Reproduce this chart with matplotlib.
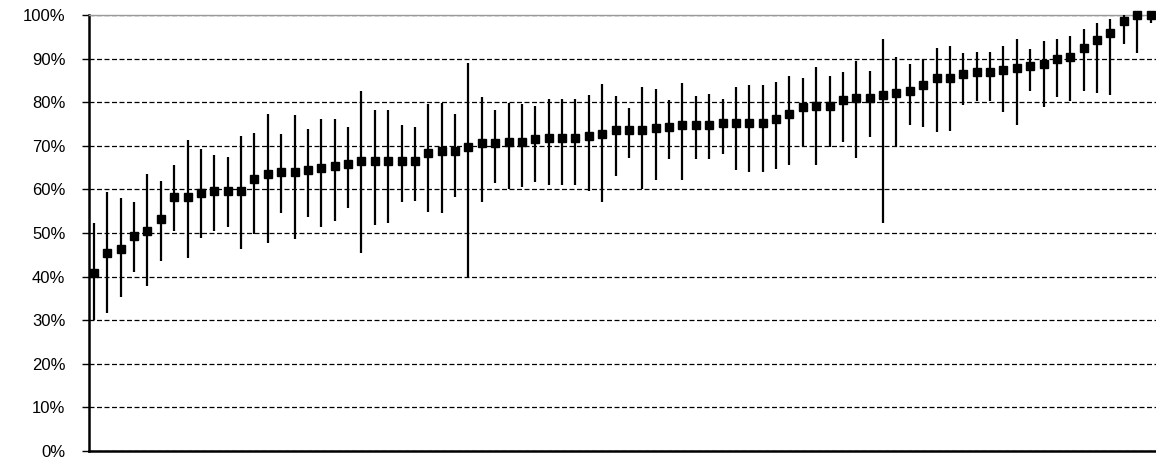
"""Sorted estimates with their intervals, drawn as squares with vertical whiskers."""
import matplotlib
matplotlib.use("Agg")
import matplotlib.pyplot as plt
import numpy as np
from matplotlib.ticker import FuncFormatter, MultipleLocator

# point estimate, interval top and interval bottom (percent), in sorted order
mean = [40.8, 45.3, 46.3, 49.3, 50.5, 53.1, 58.3, 58.3, 59.2, 59.6,
        59.6, 59.6, 62.3, 63.5, 63.9, 63.9, 64.4, 64.8, 65.4, 65.8,
        66.6, 66.6, 66.6, 66.6, 66.6, 68.4, 68.8, 68.8, 69.7, 70.6,
        70.6, 70.9, 70.9, 71.5, 71.9, 71.9, 71.9, 72.3, 72.7, 73.6,
        73.6, 73.6, 74.0, 74.4, 74.8, 74.8, 74.8, 75.3, 75.3, 75.3,
        75.3, 76.2, 77.4, 78.8, 79.1, 79.1, 80.5, 81.0, 81.0, 81.7,
        82.2, 82.6, 83.9, 85.6, 85.6, 86.5, 87.0, 87.0, 87.4, 87.8,
        88.3, 88.8, 89.9, 90.3, 92.5, 94.3, 95.9, 98.7, 100.0, 100.0]
upper = [52.2, 59.5, 58.0, 57.0, 63.5, 61.9, 65.6, 71.3, 69.3, 67.9,
         67.4, 72.2, 72.9, 77.4, 72.7, 77.0, 73.9, 76.1, 76.1, 74.2,
         82.6, 78.2, 78.2, 74.7, 74.2, 79.5, 79.9, 77.3, 89.1, 81.1,
         78.2, 79.9, 79.5, 79.1, 80.7, 80.7, 80.7, 81.7, 84.2, 81.4,
         78.6, 83.4, 83.0, 80.5, 84.3, 81.4, 81.9, 80.7, 83.4, 83.9,
         83.9, 84.6, 86.0, 85.5, 88.0, 86.0, 86.9, 89.4, 87.2, 94.6,
         90.3, 88.8, 89.8, 92.4, 92.9, 91.2, 91.4, 91.4, 92.9, 94.6,
         92.1, 94.1, 94.6, 95.2, 96.9, 98.1, 99.0, 100.0, 100.0, 100.0]
lower = [30.0, 31.6, 35.4, 41.1, 37.8, 43.6, 50.5, 44.2, 48.9, 50.5,
         51.4, 46.3, 49.7, 47.6, 54.5, 48.6, 53.6, 51.4, 52.8, 55.7,
         45.3, 51.8, 52.2, 57.0, 57.4, 54.9, 54.5, 58.3, 39.8, 57.0,
         61.4, 60.1, 60.6, 61.8, 60.9, 60.9, 60.9, 59.7, 57.0, 63.1,
         67.3, 60.1, 62.2, 67.0, 62.2, 67.0, 67.0, 68.1, 64.4, 64.1,
         64.1, 64.7, 65.6, 69.8, 65.6, 69.8, 70.9, 67.3, 72.1, 52.2,
         69.8, 74.8, 74.4, 73.1, 73.5, 79.3, 80.3, 80.3, 77.8, 74.8,
         82.6, 78.8, 81.3, 80.3, 82.6, 82.2, 81.7, 93.3, 91.2, 98.2]

plt.rcParams["font.family"] = ["Liberation Sans", "DejaVu Sans"]

fig = plt.figure(figsize=(11.56, 4.61), dpi=100)
ax = fig.add_axes([89 / 1156, 10 / 461, 1068 / 1156, 436 / 461])

x = np.arange(len(mean))
ax.vlines(x, lower, upper, color="black", lw=1.6, zorder=3, clip_on=False)
ax.plot(x, mean, "s", color="black", ms=6, zorder=4, clip_on=False)

ax.set_xlim(-0.37, len(mean) - 0.52)
ax.set_ylim(0, 100)
ax.yaxis.set_major_locator(MultipleLocator(10))
ax.yaxis.set_major_formatter(FuncFormatter(lambda v, _: f"{v:.0f}%"))
ax.grid(axis="y", color="black", lw=0.9, linestyle=(0, (4, 2)), zorder=1)
ax.set_axisbelow(True)
ax.set_xticks([])
ax.tick_params(axis="y", length=5, width=1, pad=12, labelsize=12, colors="black")

for side in ("left", "bottom"):
    ax.spines[side].set_linewidth(1.8)
    ax.spines[side].set_color("black")
ax.spines["top"].set_color("#9a9a9a")
ax.spines["top"].set_linewidth(1)
ax.spines["right"].set_visible(False)

fig.savefig("out.png", dpi=100)
